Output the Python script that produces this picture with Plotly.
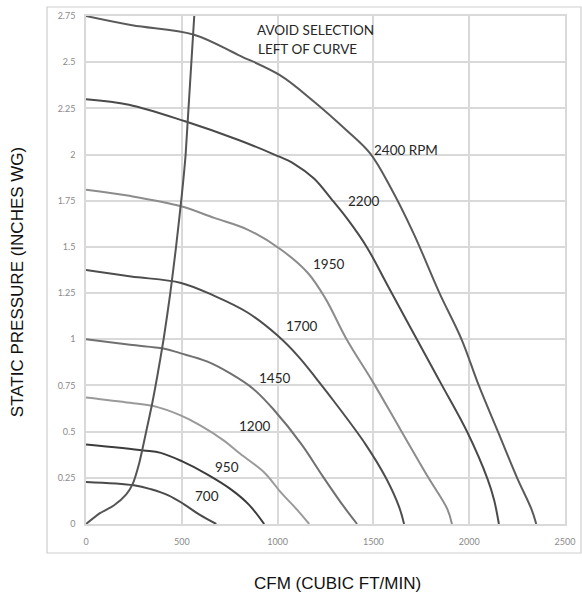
import plotly.graph_objects as go

# ---- data ----
rpm_labels = ["2400 RPM", "2200", "1950", "1700", "1450", "1200", "950", "700"]

cfm_2400 = [0, 241, 560, 793, 1012, 1186, 1361, 1483, 1587, 1709, 1845, 1960, 2050, 2150, 2250, 2325, 2350]
sp_2400 = [2.75, 2.70, 2.65, 2.54, 2.43, 2.29, 2.13, 2.006, 1.827, 1.575, 1.25, 1.00, 0.75, 0.50, 0.25, 0.08, 0.0]

cfm_2200 = [0, 224, 517, 793, 983, 1086, 1190, 1280, 1365, 1465, 1575, 1711, 1851, 1991, 2096, 2130, 2155]
sp_2200 = [2.30, 2.27, 2.18, 2.08, 2.00, 1.95, 1.87, 1.76, 1.65, 1.50, 1.29, 1.03, 0.764, 0.495, 0.243, 0.13, 0.0]

cfm_1950 = [0, 235, 496, 670, 843, 1017, 1157, 1250, 1360, 1500, 1640, 1781, 1886, 1910]
sp_1950 = [1.81, 1.775, 1.72, 1.657, 1.594, 1.486, 1.36, 1.22, 1.0, 0.764, 0.513, 0.261, 0.081, 0.0]

cfm_1700 = [0, 235, 496, 670, 843, 1000, 1110, 1200, 1290, 1460, 1565, 1635, 1660]
sp_1700 = [1.375, 1.34, 1.305, 1.235, 1.145, 1.02, 0.905, 0.79, 0.67, 0.43, 0.25, 0.09, 0.0]

cfm_1450 = [0, 230, 404, 491, 631, 753, 875, 979, 1126, 1234, 1342, 1415]
sp_1450 = [1.0, 0.97, 0.95, 0.925, 0.88, 0.815, 0.73, 0.62, 0.43, 0.261, 0.099, 0.0]

cfm_1200 = [0, 230, 369, 491, 596, 718, 805, 929, 1018, 1108, 1165]
sp_1200 = [0.685, 0.656, 0.634, 0.589, 0.534, 0.453, 0.38, 0.28, 0.17, 0.07, 0.0]

cfm_950 = [0, 300, 390, 500, 630, 760, 850, 930]
sp_950 = [0.43, 0.398, 0.385, 0.34, 0.27, 0.185, 0.105, 0.0]

cfm_700 = [0, 250, 340, 430, 510, 590, 680]
sp_700 = [0.228, 0.21, 0.188, 0.155, 0.108, 0.052, 0.0]

cfm_surge = [0, 75, 145, 210, 245, 278, 312, 345, 372, 405, 440, 470, 500, 520, 565]
sp_surge = [0, 0.06, 0.10, 0.16, 0.22, 0.33, 0.49, 0.65, 0.80, 1.00, 1.25, 1.50, 1.78, 2.00, 2.75]

x_ticks = [0, 500, 1000, 1500, 2000, 2500]
x_tick_text = ["0", "500", "1000", "1500", "2000", "2500"]
y_ticks = [0, 0.25, 0.5, 0.75, 1, 1.25, 1.5, 1.75, 2, 2.25, 2.5, 2.75]
y_tick_text = ["0", "0.25", "0.5", "0.75", "1", "1.25", "1.5", "1.75", "2", "2.25", "2.5", "2.75"]

# label anchor positions (data coords) for the curve labels
label_x = [1493, 1357, 1174, 1033, 891, 786, 663, 558]
label_y = [2.027, 1.750, 1.408, 1.07, 0.788, 0.533, 0.310, 0.149]

curves = [
    (cfm_2400, sp_2400, "#5a5a5a"),
    (cfm_2200, sp_2200, "#4a4a4a"),
    (cfm_1950, sp_1950, "#8c8c8c"),
    (cfm_1700, sp_1700, "#4d4d4d"),
    (cfm_1450, sp_1450, "#707070"),
    (cfm_1200, sp_1200, "#9a9a9a"),
    (cfm_950, sp_950, "#3c3c3c"),
    (cfm_700, sp_700, "#4a4a4a"),
]

fig = go.Figure()
for (xs, ys, col), name in zip(curves, rpm_labels):
    fig.add_trace(go.Scatter(x=xs, y=ys, mode="lines", name=name,
                             line=dict(color=col, width=2, shape="spline", smoothing=1.0),
                             showlegend=False, hoverinfo="skip"))
fig.add_trace(go.Scatter(x=cfm_surge, y=sp_surge, mode="lines", name="surge",
                         line=dict(color="#555555", width=2, shape="spline", smoothing=0.6),
                         showlegend=False, hoverinfo="skip"))

label_font = dict(family="Lato, Open Sans, sans-serif", size=13.5, color="#262626")
annotations = []
for txt, lx, ly in zip(rpm_labels, label_x, label_y):
    annotations.append(dict(x=lx, y=ly, xref="x", yref="y", text=txt, showarrow=False,
                            xanchor="left", yanchor="middle", font=label_font))
annotations.append(dict(x=882, y=2.674, xref="x", yref="y", text="AVOID SELECTION", showarrow=False,
                        xanchor="left", yanchor="middle", font=label_font))
annotations.append(dict(x=887, y=2.571, xref="x", yref="y", text="LEFT OF CURVE", showarrow=False,
                        xanchor="left", yanchor="middle", font=label_font))
title_font = dict(family="Liberation Sans, Arial, sans-serif", size=17, color="#111111")
annotations.append(dict(x=0.526, y=-0.117, xref="paper", yref="paper", text="CFM (CUBIC FT/MIN)",
                        showarrow=False, xanchor="center", yanchor="middle", font=title_font))
annotations.append(dict(x=-0.143, y=0.475, xref="paper", yref="paper", text="STATIC PRESSURE (INCHES WG)",
                        showarrow=False, xanchor="center", yanchor="middle", textangle=-90, font=title_font))

grid_col = "#d9d9d9"
tick_font = dict(family="Lato, Open Sans, sans-serif", size=9, color="#8a8a8a")

fig.update_layout(
    width=582, height=595,
    margin=dict(l=86, r=17, t=16, b=71, autoexpand=False),
    paper_bgcolor="white", plot_bgcolor="white",
    annotations=annotations,
    shapes=[dict(type="rect", xref="paper", yref="paper", x0=-0.0814, x1=1.0334, y0=-0.0571, y1=1.0177,
                 line=dict(color="#cfcfcf", width=1.2), fillcolor="rgba(0,0,0,0)", layer="below")],
    xaxis=dict(range=[0, 2500], tickvals=x_ticks, ticktext=x_tick_text, showgrid=True, gridcolor=grid_col,
               gridwidth=1.5, zeroline=False, showline=True, linecolor=grid_col, linewidth=1.5, mirror=True,
               tickfont=tick_font, ticks="", ticklabelstandoff=8, fixedrange=True, automargin=False),
    yaxis=dict(range=[0, 2.75], tickvals=y_ticks, ticktext=y_tick_text, showgrid=True, gridcolor=grid_col,
               gridwidth=1.5, zeroline=False, showline=True, linecolor=grid_col, linewidth=1.5, mirror=True,
               tickfont=tick_font, ticks="", ticklabelstandoff=7, fixedrange=True, automargin=False),
)

fig.write_html("out.html", config={"displayModeBar": False},
               post_script="document.body.style.margin='0px';document.body.style.overflow='hidden';")
